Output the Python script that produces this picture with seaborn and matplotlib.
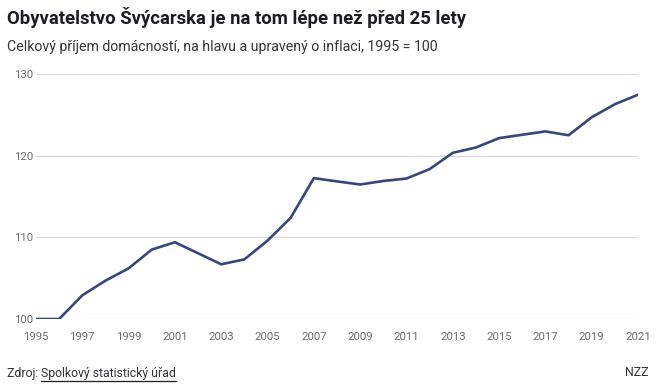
import matplotlib
matplotlib.use("Agg")
import matplotlib.pyplot as plt
import seaborn as sns
import pandas as pd

years = list(range(1995, 2022))
values = [100.0, 100.0, 102.9, 104.7, 106.2, 108.5, 109.4, 108.05, 106.7, 107.3,
          109.6, 112.4, 117.25, 116.85, 116.47, 116.9, 117.2, 118.35, 120.35, 121.0,
          122.15, 122.56, 122.97, 122.5, 124.7, 126.3, 127.46]
y_ticks = [100, 110, 120, 130]
x_ticks = list(range(1995, 2022, 2))

title = "Obyvatelstvo Švýcarska je na tom lépe než před 25 lety"
subtitle = "Celkový příjem domácností, na hlavu a upravený o inflaci, 1995 = 100"

sns.set_theme(style="white")
plt.rcParams['font.family'] = ['Roboto', 'DejaVu Sans']

df = pd.DataFrame({"rok": years, "index": values})

fig = plt.figure(figsize=(6.56, 3.91), dpi=100)
ax = fig.add_axes([36/656, 1-319/391, (638-36)/656, (319-74)/391])
sns.lineplot(data=df, x="rok", y="index", ax=ax, color="#36467f", linewidth=1.9)

ax.set_xlim(1995, 2021)
ax.set_ylim(100, 130)
ax.set_yticks(y_ticks)
ax.set_xticks(x_ticks)
ax.set_xlabel("")
ax.set_ylabel("")
for s in ax.spines.values():
    s.set_visible(False)
ax.yaxis.grid(True, color="#d9d9de", linewidth=0.9)
ax.set_axisbelow(True)
ax.tick_params(axis="y", length=0, pad=2, labelsize=8.2, labelcolor="#6b6b73")
ax.tick_params(axis="x", length=5, width=0.8, color="#cfcfd4", direction="out",
               pad=4, labelsize=8.2, labelcolor="#6b6b73")
for lab in ax.get_yticklabels():
    lab.set_horizontalalignment("right")

fig.text(7/656, 1-18/391, title, fontsize=13.3, fontweight="bold", color="#1c1c24",
         va="center", ha="left")
fig.text(7/656, 1-47/391, subtitle, fontsize=10.2, color="#333339", va="center", ha="left")
t1 = fig.text(7/656, 1-373/391, "Zdroj: ", fontsize=8.8, color="#333339", va="center", ha="left")
fig.canvas.draw()
bb = t1.get_window_extent()
t2 = fig.text(bb.x1/656, 1-373/391, "Spolkový statistický úřad", fontsize=8.8, color="#333339",
              va="center", ha="left")
bb2 = t2.get_window_extent()
fig.add_artist(plt.Line2D([bb2.x0/656, bb2.x1/656], [1-381/391, 1-381/391],
                          color="#1c1c24", linewidth=0.9))
fig.text(648/656, 1-373/391, "NZZ", fontsize=8.8, color="#333339", va="center", ha="right")

fig.savefig("out.png", dpi=100)
